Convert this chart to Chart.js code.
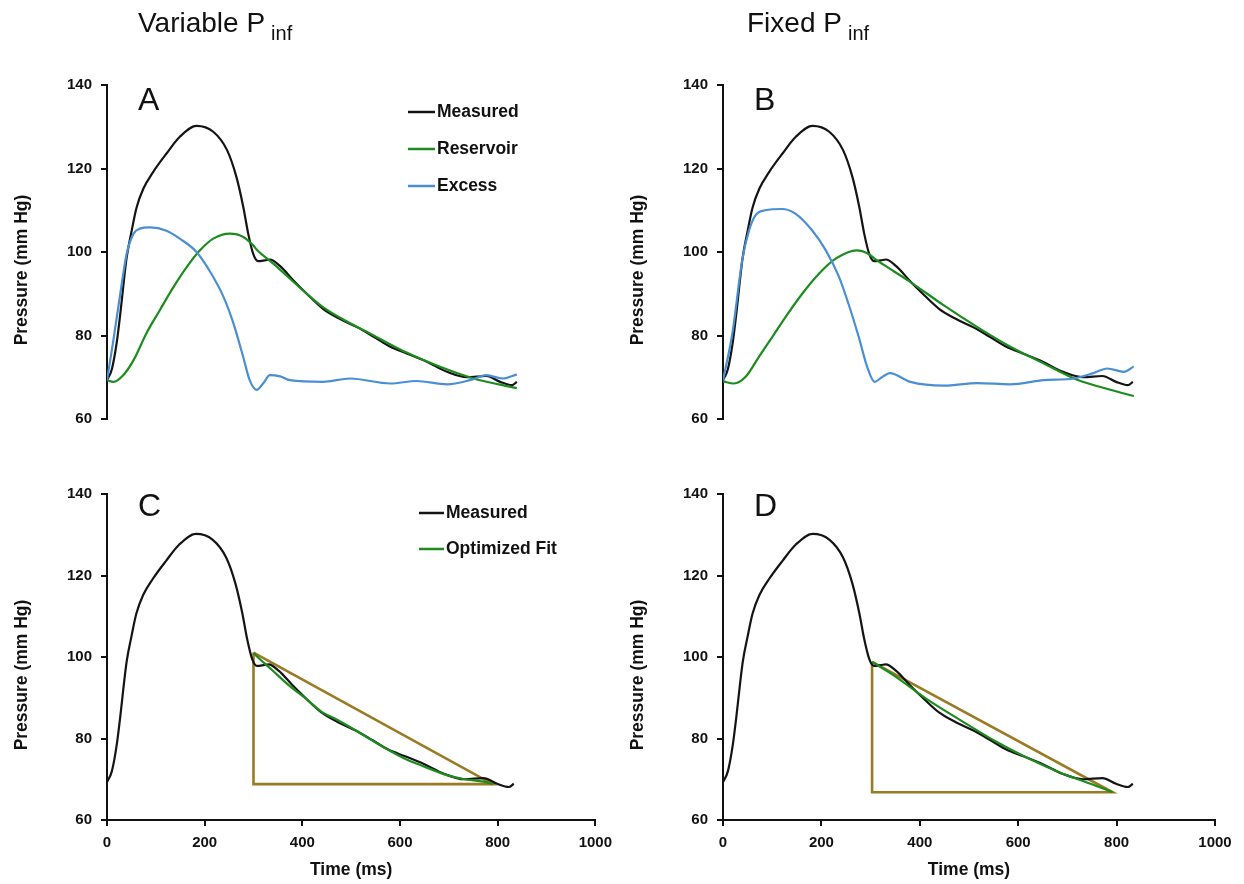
<!DOCTYPE html>
<html><head><meta charset="utf-8">
<script src="https://cdn.jsdelivr.net/npm/chart.js@4.4.1/dist/chart.umd.min.js"></script>
<style>
html,body{margin:0;padding:0;background:#fff;}
body{width:1244px;height:884px;position:relative;overflow:hidden;font-family:"Liberation Sans",Arial,sans-serif;}
canvas{position:absolute;}
.ttl{position:absolute;top:9px;font-size:28px;line-height:28px;color:#111;white-space:nowrap;z-index:5;}
.ttl span{font-size:20px;position:relative;top:8px;margin-left:6px;}
</style></head><body>
<canvas id="cA" style="left:0;top:0" width="620" height="440"></canvas>
<canvas id="cB" style="left:616px;top:0" width="628" height="440"></canvas>
<canvas id="cC" style="left:0;top:440px" width="620" height="444"></canvas>
<canvas id="cD" style="left:616px;top:440px" width="628" height="444"></canvas>
<div class="ttl" style="left:138px">Variable P<span>inf</span></div>
<div class="ttl" style="left:747px">Fixed P<span>inf</span></div>
<script>
// ---- data (time in ms, pressure in mm Hg) ----
const measT = [0, 10, 20, 27, 40, 50, 60, 74, 94, 121, 148, 182, 216, 244, 263, 277, 287, 297, 307, 321, 331, 352, 379, 406, 439, 473, 508, 542, 576, 609, 650, 691, 732, 771, 799, 823, 833];
const measP = [69.3, 72, 78.5, 85.2, 98.7, 105, 110.6, 115.2, 119.2, 123.6, 127.6, 130.2, 128.8, 124.4, 118, 110.8, 104.4, 99.6, 97.8, 98, 98.2, 96.6, 93.2, 90, 86.4, 84, 82, 79.7, 77.3, 75.7, 73.7, 71.3, 70, 70.3, 68.9, 68.1, 68.9];

const resAT = [0, 13, 33, 54, 80, 107, 135, 162, 189, 216, 250, 277, 297, 304, 338, 372, 406, 439, 473, 542, 609, 677, 745, 833];
const resAP = [69.3, 68.9, 70.5, 74.1, 80.5, 86, 91.6, 96.4, 100.4, 103.2, 104.4, 103.6, 101.6, 100.6, 97.2, 93.6, 90, 86.8, 84.3, 80, 75.9, 72.5, 69.7, 67.4];

const excAT = [0, 13, 27, 40, 54, 67, 87, 121, 148, 182, 210, 237, 257, 277, 290, 304, 318, 331, 352, 372, 439, 494, 576, 629, 691, 738, 771, 805, 833];
const excAP = [69.3, 78.9, 90, 99.6, 104.4, 105.6, 105.9, 105.1, 103.2, 100, 95.2, 89.2, 82.9, 74.8, 69.3, 67, 68.6, 70.5, 70.2, 69.3, 68.9, 69.7, 68.5, 69.1, 68.3, 69.3, 70.5, 69.7, 70.7];

const resBT = [0, 22, 46, 73, 100, 127, 161, 195, 229, 272, 295, 313, 347, 381, 449, 517, 584, 652, 720, 787, 835];
const resBP = [69, 68.5, 70.1, 74.9, 79.6, 84.4, 90, 94.8, 98.4, 100.4, 99.6, 98, 95.4, 92.8, 87.2, 82, 77.3, 73.3, 69.4, 67, 65.5];

const excBT = [0, 19, 39, 53, 66, 86, 120, 147, 181, 209, 236, 255, 276, 293, 308, 324, 339, 381, 449, 517, 584, 652, 713, 753, 781, 815, 835];
const excBP = [69.3, 80.5, 98, 105.2, 108.8, 110, 110.3, 109.2, 105.2, 100.4, 94, 87.6, 79.6, 72.5, 68.9, 70.1, 71, 68.9, 68, 68.6, 68.3, 69.3, 69.7, 71, 72.1, 71.3, 72.6];

const fitCT = [300, 304, 338, 372, 406, 439, 473, 508, 542, 576, 609, 650, 691, 732, 771, 790];
const fitCP = [101, 100.5, 96.8, 93.1, 89.9, 86.6, 84.5, 82.1, 79.6, 77.2, 75.1, 73.1, 71.2, 70, 69.4, 68.8];

const fitDT = [303, 347, 415, 484, 551, 619, 686, 754, 792];
const fitDP = [98.8, 95.5, 89.6, 84.4, 79.5, 75.2, 71.6, 68.6, 66.8];

const triCT = [300, 300, 790, 300];
const triCP = [101.1, 68.8, 68.8, 101.1];
const triDT = [303, 303, 792, 303];
const triDP = [98.8, 66.8, 66.8, 98.8];

const xTicks = [0, 200, 400, 600, 800, 1000];
const yTicks = [60, 80, 100, 120, 140];

// ---- styling ----
const FONT = '"Liberation Sans", Arial, sans-serif';
const BLACK = '#141414', GREEN = '#1c8c1f', BLUE = '#4a8fd2', OLIVE = '#9a7a22';

const pts = (ts, ps) => ts.map((t, i) => ({x: t, y: ps[i]}));

const decor = {
  id: 'decor',
  afterDatasetsDraw(chart, args, o) {
    const {ctx, chartArea: a} = chart;
    ctx.save();
    ctx.fillStyle = '#111';
    ctx.textAlign = 'left';
    ctx.textBaseline = 'alphabetic';
    ctx.font = '32px ' + FONT;
    ctx.fillText(o.letter, a.left + 31, a.top + o.letterDy);
    // y axis title
    ctx.save();
    ctx.font = 'bold 17.5px ' + FONT;
    ctx.translate(a.left - 85, (a.top + a.bottom) / 2 + 18);
    ctx.rotate(-Math.PI / 2);
    ctx.textAlign = 'center';
    ctx.textBaseline = 'middle';
    ctx.fillText('Pressure (mm Hg)', 0, 0);
    ctx.restore();
    // inset legend
    if (o.legend) {
      const L = o.legend;
      const items = chart.data.datasets.filter(d => d.inLegend);
      ctx.font = 'bold 17.5px ' + FONT;
      ctx.textBaseline = 'middle';
      items.forEach((d, i) => {
        const y = a.top + L.ys[i];
        ctx.strokeStyle = d.borderColor;
        ctx.lineWidth = 2.5;
        ctx.beginPath();
        ctx.moveTo(a.left + L.x0, y);
        ctx.lineTo(a.left + L.x0 + L.len, y);
        ctx.stroke();
        ctx.fillStyle = '#111';
        ctx.fillText(d.label, a.left + L.x0 + L.len + 2, y);
      });
    }
    ctx.restore();
  }
};

function axisCommon() {
  return {
    grid: {drawOnChartArea: false, drawTicks: true, tickLength: 6, color: '#111', lineWidth: 2},
    border: {display: true, color: '#111', width: 2}
  };
}

function makeOptions(showX, padRight, padTop, padBottom, dec) {
  return {
    responsive: false,
    animation: false,
    events: [],
    layout: {padding: {left: 0, top: padTop, right: padRight, bottom: padBottom}},
    plugins: {legend: {display: false}, tooltip: {enabled: false}, decor: dec},
    elements: {point: {radius: 0}, line: {borderWidth: 2.2}},
    scales: {
      x: Object.assign(axisCommon(), {
        type: 'linear', min: 0, max: 1000, display: showX,
        afterBuildTicks: s => { s.ticks = xTicks.map(v => ({value: v})); },
        ticks: {color: '#111', font: {family: FONT, size: 15, weight: 'bold'}, padding: 8, maxRotation: 0, autoSkip: false,
                callback: v => String(v)},
        title: {display: true, text: 'Time (ms)', color: '#111', font: {family: FONT, size: 17.5, weight: 'bold'}, padding: {top: 0, bottom: 3}},
        afterFit: s => { if (s.options.display) s.height = 64; }
      }),
      y: Object.assign(axisCommon(), {
        type: 'linear', min: 60, max: 140,
        afterBuildTicks: s => { s.ticks = yTicks.map(v => ({value: v})); },
        ticks: {color: '#111', font: {family: FONT, size: 15, weight: 'bold'}, padding: 9, autoSkip: false,
                callback: v => String(v)},
        afterFit: s => { s.width = 107; }
      })
    }
  };
}

function curve(label, ts, ps, color, order, inLegend) {
  return {label, data: pts(ts, ps), borderColor: color, backgroundColor: color, borderWidth: 2.2,
          cubicInterpolationMode: 'monotone', fill: false, order, inLegend};
}
function tri(ts, ps) {
  return {label: 'Triangle', data: pts(ts, ps), borderColor: OLIVE, borderWidth: 2.6, tension: 0,
          fill: false, order: 5, inLegend: false, borderJoinStyle: 'miter'};
}

new Chart(document.getElementById('cA'), {
  type: 'line',
  data: {datasets: [
    curve('Measured', measT, measP, BLACK, 3, true),
    curve('Reservoir', resAT, resAP, GREEN, 2, true),
    curve('Excess', excAT, excAP, BLUE, 1, true)
  ]},
  options: makeOptions(false, 21, 85, 21, {letter: 'A', letterDy: 25, legend: {x0: 301, len: 27, ys: [27, 64, 101]}}),
  plugins: [decor]
});

new Chart(document.getElementById('cB'), {
  type: 'line',
  data: {datasets: [
    curve('Measured', measT, measP, BLACK, 3, false),
    curve('Reservoir', resBT, resBP, GREEN, 2, false),
    curve('Excess', excBT, excBP, BLUE, 1, false)
  ]},
  options: makeOptions(false, 29, 85, 21, {letter: 'B', letterDy: 25}),
  plugins: [decor]
});

new Chart(document.getElementById('cC'), {
  type: 'line',
  data: {datasets: [
    curve('Measured', measT, measP, BLACK, 3, true),
    curve('Optimized Fit', fitCT, fitCP, GREEN, 1, true),
    tri(triCT, triCP)
  ]},
  options: makeOptions(true, 21, 54, 0, {letter: 'C', letterDy: 22, legend: {x0: 312, len: 25, ys: [19, 55]}}),
  plugins: [decor]
});

new Chart(document.getElementById('cD'), {
  type: 'line',
  data: {datasets: [
    curve('Measured', measT, measP, BLACK, 3, false),
    curve('Optimized Fit', fitDT, fitDP, GREEN, 1, false),
    tri(triDT, triDP)
  ]},
  options: makeOptions(true, 29, 54, 0, {letter: 'D', letterDy: 22}),
  plugins: [decor]
});
</script>
</body></html>
